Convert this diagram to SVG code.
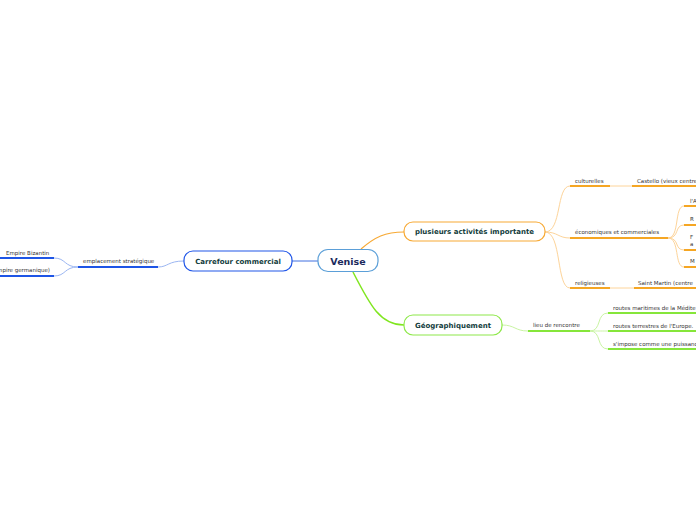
<svg xmlns="http://www.w3.org/2000/svg" width="696" height="520" viewBox="0 0 696 520">
<style>
.t{font-family:"DejaVu Sans",Verdana,sans-serif;font-size:5.5px;fill:#333}
.n{font-family:"DejaVu Sans",Verdana,sans-serif;font-weight:bold;font-size:7px;fill:#123c3c;text-anchor:middle}
.c{fill:none}
.ob{stroke:#f5a623;stroke-width:2;fill:none}
.ol{stroke:#fdd49a;stroke-width:1;fill:none}
.gb{stroke:#86e63a;stroke-width:2;fill:none}
.gl{stroke:#c9f4a3;stroke-width:1;fill:none}
.bb{stroke:#1e55e6;stroke-width:2;fill:none}
.bl{stroke:#9bb6f2;stroke-width:1;fill:none}
</style>
<rect width="696" height="520" fill="#fff"/>
<g id="connectors">
<line x1="292" y1="261" x2="318" y2="261" stroke="#3f6fe0" stroke-width="1"/>
<path d="M361 249 C375 237 385 232 404 232" stroke="#f7a934" stroke-width="1.2" fill="none"/>
<path d="M353 272 C370 305 380 325 404 325" stroke="#80e620" stroke-width="1.5" fill="none"/>
<path class="bl" d="M184 261 C168 261 168 267 158 267"/>
<path class="bl" d="M78 267 C64 267 66 258 54 258"/>
<path class="bl" d="M78 267 C64 267 66 276 54 276"/>
<path class="ol" d="M545 232 C562 232 556 186 570 186"/>
<path class="ol" d="M545 232 C558 232 558 238 570 238"/>
<path class="ol" d="M545 232 C562 232 556 288 570 288"/>
<line class="ol" x1="610" y1="186" x2="632" y2="186"/>
<line class="ol" x1="610" y1="288" x2="634" y2="288"/>
<path class="ol" d="M668 238 C680 238 674 206 684 206"/>
<path class="ol" d="M668 238 C680 238 674 225 684 225"/>
<path class="ol" d="M668 238 C680 238 674 250 684 250"/>
<path class="ol" d="M668 238 C680 238 674 267 684 267"/>
<path class="gl" d="M502 325 C515 325 515 331 528 331"/>
<path class="gl" d="M590 331 C602 331 596 313 608 313"/>
<path class="gl" d="M590 331 C600 331 598 331 608 331"/>
<path class="gl" d="M590 331 C602 331 596 349 608 349"/>
</g>
<g id="venise">
<rect x="318" y="249.5" width="60" height="22" rx="10" fill="#fff" stroke="#5b9fd8" stroke-width="1.2"/>
<text x="348" y="264.5" class="n" style="font-size:9.5px;fill:#1b2a5c">Venise</text>
</g>
<g id="carrefour">
<rect x="184" y="251" width="108" height="20" rx="9" fill="#fff" stroke="#2056e8" stroke-width="1.2"/>
<text x="238" y="263.5" class="n">Carrefour commercial</text>
</g>
<g id="emplacement">
<text x="83" y="263" class="t">emplacement stratégique</text>
<line class="bb" x1="78" y1="267" x2="158" y2="267"/>
</g>
<g id="bizantin">
<text x="6" y="254.5" class="t">Empire Bizantin</text>
<line class="bb" x1="0" y1="258" x2="54" y2="258"/>
</g>
<g id="germanique">
<text x="50" y="272" class="t" text-anchor="end">(Empire germanique)</text>
<line class="bb" x1="0" y1="276" x2="54" y2="276"/>
</g>
<g id="plusieurs">
<rect x="404" y="222" width="141" height="19" rx="9" fill="#fff" stroke="#f7a934" stroke-width="1.2"/>
<text x="474.5" y="234" class="n">plusieurs activités importante</text>
</g>
<g id="culturelles">
<text x="575" y="183" class="t">culturelles</text>
<line class="ob" x1="570" y1="186" x2="610" y2="186"/>
</g>
<g id="castello">
<text x="637" y="183" class="t">Castello (vieux centre</text>
<line class="ob" x1="632" y1="186" x2="696" y2="186"/>
</g>
<g id="economiques">
<text x="575" y="234" class="t">économiques et commerciales</text>
<line class="ob" x1="570" y1="238" x2="668" y2="238"/>
</g>
<g id="eco1">
<text x="690" y="202.5" class="t">l'A</text>
<line class="ob" x1="684" y1="206" x2="696" y2="206"/>
</g>
<g id="eco2">
<text x="690" y="221" class="t">R</text>
<line class="ob" x1="684" y1="225" x2="696" y2="225"/>
</g>
<g id="eco3">
<text x="690" y="238.5" class="t">F</text>
<text x="690" y="246" class="t">a</text>
<line class="ob" x1="684" y1="250" x2="696" y2="250"/>
</g>
<g id="eco4">
<text x="690" y="263" class="t">M</text>
<line class="ob" x1="684" y1="267" x2="696" y2="267"/>
</g>
<g id="religieuses">
<text x="575" y="285" class="t">religieuses</text>
<line class="ob" x1="570" y1="288" x2="610" y2="288"/>
</g>
<g id="saintmartin">
<text x="638" y="285" class="t">Saint Martin (centre</text>
<line class="ob" x1="634" y1="288" x2="696" y2="288"/>
</g>
<g id="geo">
<rect x="404" y="315" width="98" height="20" rx="9" fill="#fff" stroke="#8ee84a" stroke-width="1.2"/>
<text x="453" y="327.5" class="n">Géographiquement</text>
</g>
<g id="lieu">
<text x="533" y="327" class="t">lieu de rencontre</text>
<line class="gb" x1="528" y1="331" x2="590" y2="331"/>
</g>
<g id="maritimes">
<text x="613" y="309.5" class="t">routes maritimes de la Médite</text>
<line class="gb" x1="608" y1="313" x2="696" y2="313"/>
</g>
<g id="terrestres">
<text x="613" y="327.5" class="t">routes terrestres de l'Europe.</text>
<line class="gb" x1="608" y1="331" x2="696" y2="331"/>
</g>
<g id="puissance">
<text x="613" y="345.5" class="t">s'impose comme une puissanc</text>
<line class="gb" x1="608" y1="349" x2="696" y2="349"/>
</g>
</svg>
